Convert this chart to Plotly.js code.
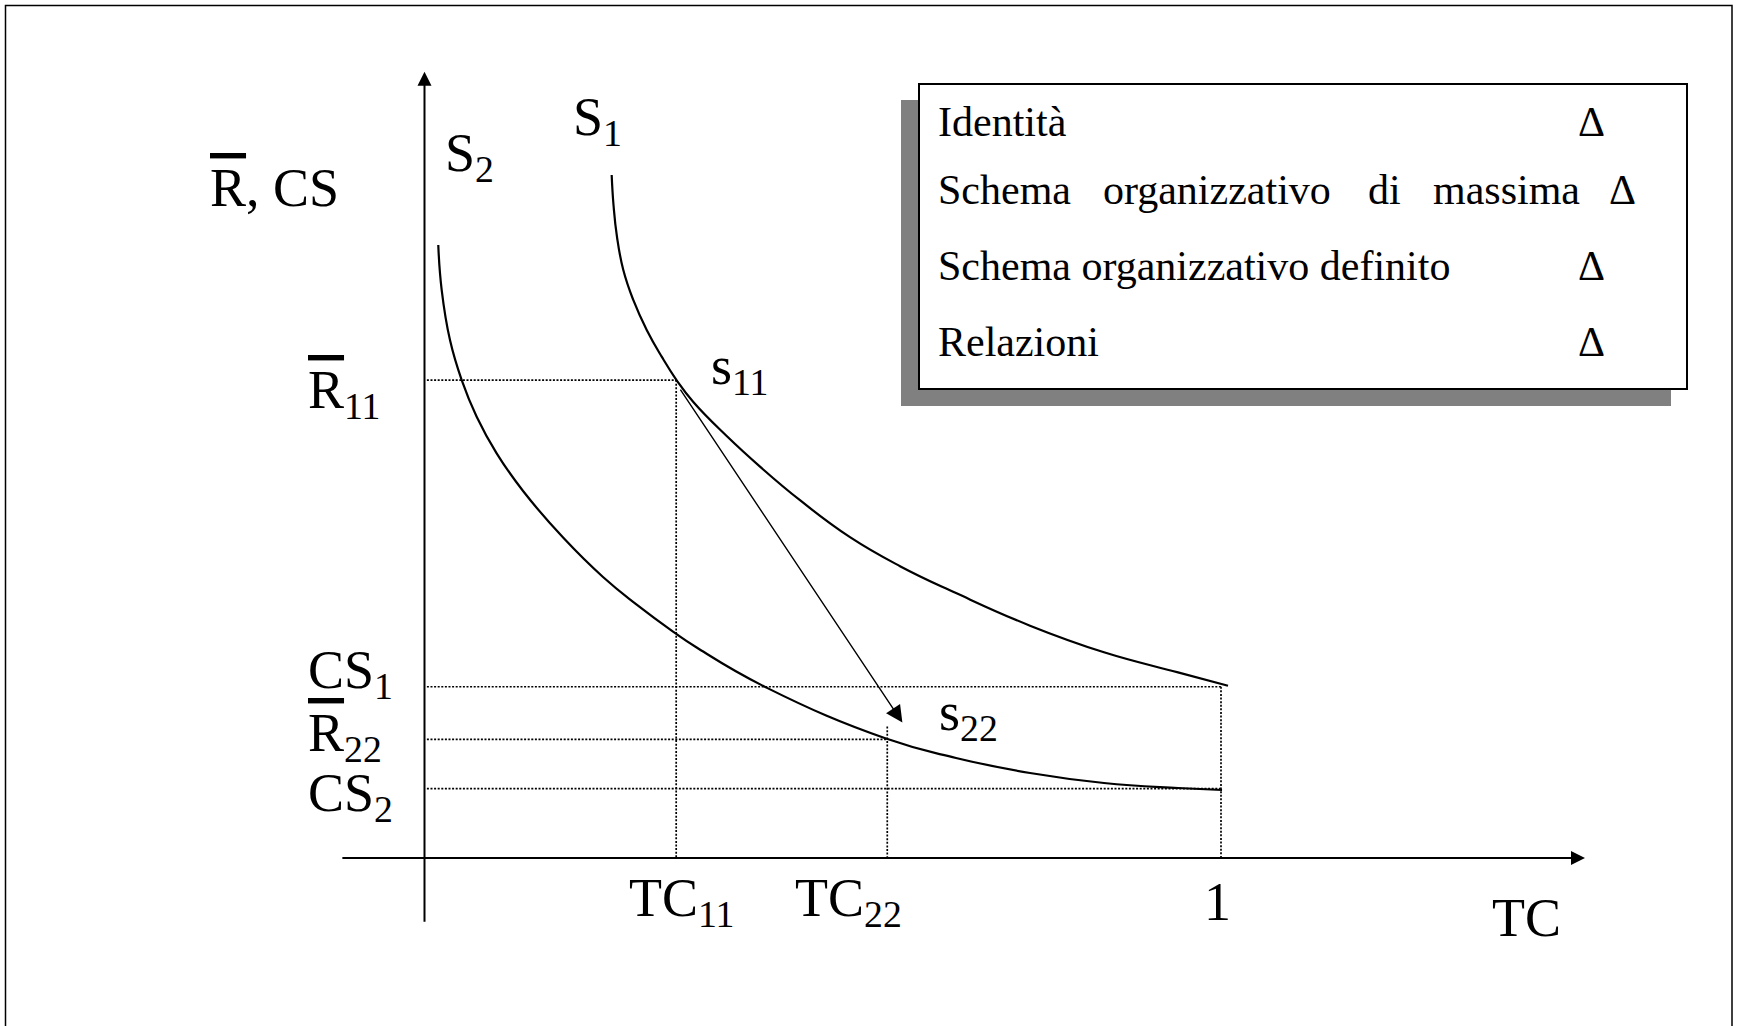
<!DOCTYPE html>
<html>
<head>
<meta charset="utf-8">
<script src="https://cdn.plot.ly/plotly-3.0.1.min.js"></script>
<style>html,body{margin:0;padding:0;background:#fff;}#chart{width:1738px;height:1026px;}</style>
</head>
<body>
<div id="chart"></div>
<script>
// ---- data (TC on x, R / CS on y) ----
const tcS1 = [0.2350, 0.2373, 0.2417, 0.2496, 0.2621, 0.2790, 0.2978, 0.3164, 0.3375, 0.3794, 0.4212, 0.4714, 0.5342, 0.5970, 0.6673, 0.7602, 0.8531, 0.9460, 1.0088];
const valS1 = [0.8575, 0.8198, 0.7797, 0.7382, 0.7006, 0.6629, 0.6294, 0.6001, 0.5725, 0.5298, 0.4914, 0.4492, 0.4028, 0.3664, 0.3326, 0.2917, 0.2583, 0.2331, 0.2162];
const tcS2 = [0.0173, 0.0216, 0.0320, 0.0467, 0.0655, 0.0906, 0.1240, 0.1743, 0.2241, 0.2664, 0.3120, 0.3417, 0.4300, 0.5794, 0.6673, 0.7602, 0.8531, 0.9460, 1.0013];
const valS2 = [0.7696, 0.7131, 0.6503, 0.6001, 0.5541, 0.5081, 0.4604, 0.4020, 0.3528, 0.3181, 0.2843, 0.2643, 0.2136, 0.1500, 0.1256, 0.1067, 0.0942, 0.0879, 0.0854];

const tcMarks = [0.316, 0.581, 1.0];            // TC11, TC22, 1
const tcMarkLabels = ['TC<sub>11</sub>', 'TC<sub>22</sub>', '1'];
const tcMarkTops = [0.600, 0.165, 0.215];        // where each vertical guide starts
const levelValues = [0.600, 0.215, 0.149, 0.087]; // R11, CS1, R22, CS2
const levelEnds = [0.316, 1.0, 0.581, 1.0];
const OV = '<span style="text-decoration:overline;text-decoration-thickness:1.5px">R</span>';
const levelLabels = [OV + '<sub>11</sub>', 'CS<sub>1</sub>', OV + '<sub>22</sub>', 'CS<sub>2</sub>'];
const moveFrom = [0.320, 0.590];   // s11
const moveTo = [0.600, 0.170];     // s22
const legendRows = ['Identità', 'Schema organizzativo di massima', 'Schema organizzativo definito', 'Relazioni'];
const legendMark = 'Δ';

// ---- layout helpers ----
const W = 1738, H = 1026;
const X0 = 424.5, Y0 = 858, U = 796.5;   // pixel origin and pixels per unit
const xr = [(0 - X0) / U, (W - X0) / U];
const yr = [(Y0 - H) / U, (Y0 - 0) / U];
const px = p => p / W, py = p => 1 - p / H;
const FONT = 'Liberation Serif, Times New Roman, serif';
const BIG = 54;

const traces = [];
traces.push({x: tcS1, y: valS1, mode: 'lines', line: {color: '#000', width: 2.2, shape: 'spline', smoothing: 1.3}, hoverinfo: 'skip'});
traces.push({x: tcS2, y: valS2, mode: 'lines', line: {color: '#000', width: 2.2, shape: 'spline', smoothing: 1.3}, hoverinfo: 'skip'});
const dotLine = {color: '#000', width: 1.7, dash: '2px,1.6px'};
levelValues.forEach((v, i) => {
  traces.push({x: [0.003, levelEnds[i]], y: [v, v], mode: 'lines', line: dotLine, hoverinfo: 'skip'});
});
tcMarks.forEach((t, i) => {
  traces.push({x: [t, t], y: [tcMarkTops[i], 0], mode: 'lines', line: dotLine, hoverinfo: 'skip'});
});

const ann = [];
// axes with arrowheads
ann.push({x: 0, y: 0.987, ax: 0, ay: -0.082, xref: 'x', yref: 'y', axref: 'x', ayref: 'y', text: '', showarrow: true,
          arrowhead: 2, arrowsize: 1.4, arrowwidth: 2, arrowcolor: '#000'});
ann.push({x: 1.457, y: 0, ax: -0.105, ay: 0, xref: 'x', yref: 'y', axref: 'x', ayref: 'y', text: '', showarrow: true,
          arrowhead: 2, arrowsize: 1.4, arrowwidth: 2, arrowcolor: '#000'});
// move arrow
ann.push({x: moveTo[0], y: moveTo[1], ax: moveFrom[0], ay: moveFrom[1], xref: 'x', yref: 'y', axref: 'x', ayref: 'y',
          text: '', showarrow: true, arrowhead: 2, arrowsize: 2.4, arrowwidth: 1.4, arrowcolor: '#000'});

const txt = (x, y, text, size, xanchor) => ({x, y, xref: 'x', yref: 'y', text, showarrow: false,
  xanchor: xanchor || 'left', yanchor: 'middle', font: {family: FONT, size: size, color: '#000'}});

ann.push(txt(-0.272, 0.841, OV + ', CS', BIG));
ann.push(txt(0.0232, 0.8806, 'S<sub>2</sub>', BIG));
ann.push(txt(0.184, 0.9256, 'S<sub>1</sub>', BIG));
const levelLabelY = [0.583, 0.232, 0.152, 0.0776];
levelLabels.forEach((l, i) => ann.push(txt(-0.1488, levelLabelY[i], l, BIG)));
const tcLabelX = [0.323, 0.532, 0.995];
tcMarkLabels.forEach((l, i) => ann.push(txt(tcLabelX[i], -0.055, l, BIG, 'center')));
ann.push(txt(1.384, -0.0753, 'TC', BIG, 'center'));
ann.push(txt(0.357, 0.613, 's<sub>11</sub>', BIG));
ann.push(txt(0.643, 0.179, 's<sub>22</sub>', BIG));

// legend box text
const LF = 42;
const rowY = [122, 190, 266, 342];
const ltxt = (x, y, text, xanchor) => ({x: px(x), y: py(y), xref: 'paper', yref: 'paper', text, showarrow: false,
  xanchor: xanchor || 'left', yanchor: 'middle', font: {family: FONT, size: LF, color: '#000'}});
[0, 2, 3].forEach(i => {
  ann.push(ltxt(936, rowY[i], legendRows[i]));
  ann.push(ltxt(1591, rowY[i], legendMark, 'center'));
});
const row2Words = legendRows[1].split(' ');
const row2X = [936, 1101, 1366, 1431];
row2Words.forEach((w, i) => ann.push(ltxt(row2X[i], rowY[1], w)));
ann.push(ltxt(1622, rowY[1], legendMark, 'center'));

const shapes = [
  {type: 'rect', xref: 'paper', yref: 'paper', x0: px(5.5), x1: px(1732), y0: -0.05, y1: py(5.5), line: {color: '#000', width: 1.5}},
  {type: 'rect', xref: 'paper', yref: 'paper', x0: px(901), x1: px(1671), y0: py(406), y1: py(100), fillcolor: '#808080', line: {width: 0}, layer: 'below'},
  {type: 'rect', xref: 'paper', yref: 'paper', x0: px(919), x1: px(1687), y0: py(389), y1: py(84), fillcolor: '#fff', line: {color: '#000', width: 2}, layer: 'below'}
];

const layout = {
  width: W, height: H, margin: {l: 0, r: 0, t: 0, b: 0},
  paper_bgcolor: '#fff', plot_bgcolor: 'rgba(0,0,0,0)', showlegend: false,
  xaxis: {range: xr, visible: false, showgrid: false, zeroline: false, fixedrange: true},
  yaxis: {range: yr, visible: false, showgrid: false, zeroline: false, fixedrange: true},
  annotations: ann, shapes: shapes
};
Plotly.newPlot('chart', traces, layout, {displayModeBar: false, staticPlot: true});
</script>
</body>
</html>
